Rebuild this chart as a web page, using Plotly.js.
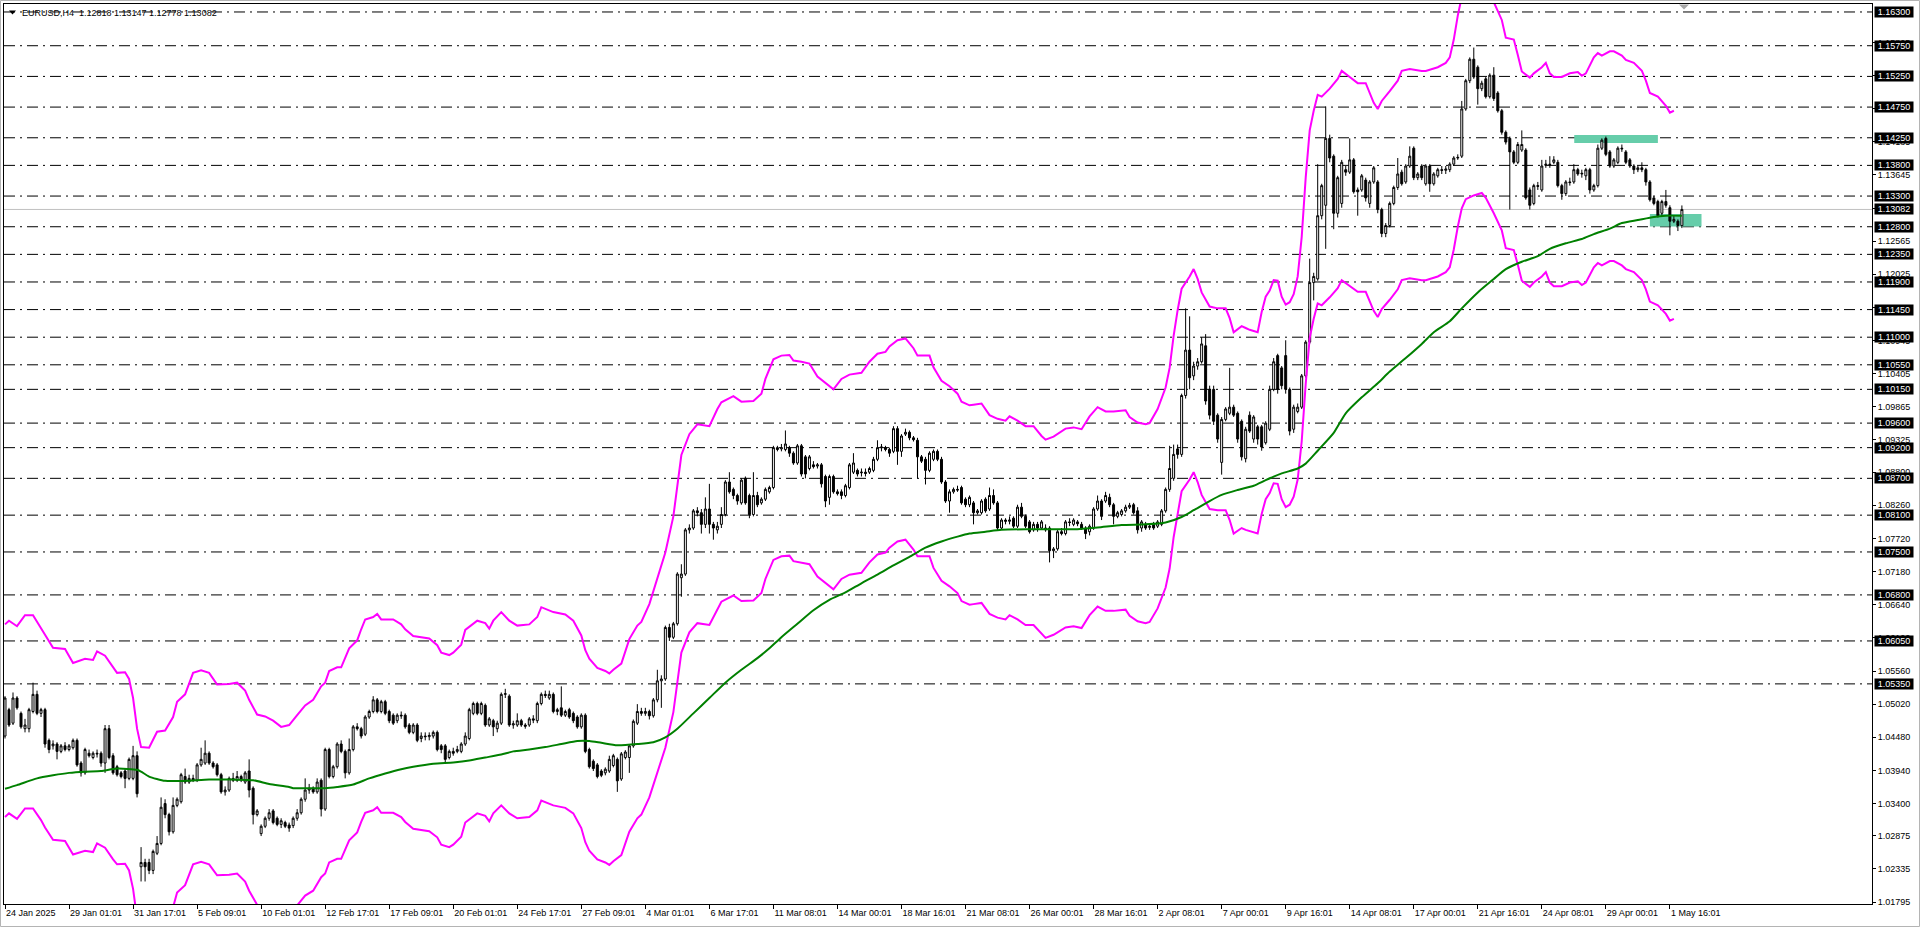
<!DOCTYPE html>
<html><head><meta charset="utf-8">
<script src="https://cdn.plot.ly/plotly-3.0.1.min.js"></script>
<style>html,body{margin:0;padding:0;background:#fff;overflow:hidden}#chart{width:1920px;height:927px}</style>
</head><body><div id="chart"></div>
<script>
// ---------------- DATA ----------------
const symbolTitle = "EURUSD,H4\u00a0 1.12818 1.13147 1.12778 1.13082";
const xTickBars = [0,16,32,48,64,80,96,112,128,144,160,176,192,208,224,240,256,272,288,304,320,336,352,368,384,400,416];
const xTickLabels = ["24 Jan 2025","29 Jan 01:01","31 Jan 17:01","5 Feb 09:01","10 Feb 01:01","12 Feb 17:01","17 Feb 09:01","20 Feb 01:01","24 Feb 17:01","27 Feb 09:01","4 Mar 01:01","6 Mar 17:01","11 Mar 08:01","14 Mar 00:01","18 Mar 16:01","21 Mar 08:01","26 Mar 00:01","28 Mar 16:01","2 Apr 08:01","7 Apr 00:01","9 Apr 16:01","14 Apr 08:01","17 Apr 00:01","21 Apr 16:01","24 Apr 08:01","29 Apr 00:01","1 May 16:01"];
const yTickValues = [1.01795,1.02335,1.02875,1.03400,1.03940,1.04480,1.05020,1.05560,1.06100,1.06640,1.07180,1.07720,1.08260,1.08800,1.09325,1.09865,1.10405,1.10945,1.11485,1.12025,1.12565,1.13105,1.13645,1.14185,1.14725,1.15265,1.15805];
const levelPrices = [1.16300,1.15750,1.15250,1.14750,1.14250,1.13800,1.13300,1.12800,1.12350,1.11900,1.11450,1.11000,1.10550,1.10150,1.09600,1.09200,1.08700,1.08100,1.07500,1.06800,1.06050,1.05350];
const bidPrice = 1.13082;
const zoneBars = [[392.1,413.0],[411.0,423.9]];
const zonePrices = [[1.14165,1.14295],[1.12803,1.13008]];

const opens = [
1.0450,1.0493,1.0471,1.0512,1.0487,1.0462,1.0462,1.0490,1.0518,1.0487,
1.0493,1.0443,1.0434,1.0437,1.0425,1.0434,1.0428,1.0431,1.0443,1.0406,
1.0390,1.0422,1.0415,1.0422,1.0422,1.0406,1.0462,1.0418,1.0400,1.0390,
1.0393,1.0381,1.0381,1.0418,1.0237,1.0244,1.0244,1.0231,1.0259,1.0275,
1.0340,1.0322,1.0294,1.0337,1.0343,1.0384,1.0375,1.0381,1.0378,1.0403,
1.0406,1.0422,1.0406,1.0403,1.0387,1.0359,1.0362,1.0381,1.0378,1.0384,
1.0375,1.0393,1.0365,1.0322,1.0291,1.0303,1.0316,1.0328,1.0316,1.0306,
1.0309,1.0305,1.0304,1.0316,1.0325,1.0347,1.0362,1.0365,1.0359,1.0378,
1.0331,1.0428,1.0384,1.0400,1.0437,1.0425,1.0390,1.0428,1.0465,1.0462,
1.0453,1.0481,1.0490,1.0509,1.0490,1.0506,1.0490,1.0484,1.0475,1.0484,
1.0484,1.0468,1.0456,1.0468,1.0446,1.0450,1.0449,1.0450,1.0456,1.0434,
1.0434,1.0415,1.0425,1.0425,1.0425,1.0437,1.0446,1.0487,1.0503,1.0487,
1.0500,1.0468,1.0475,1.0462,1.0471,1.0518,1.0515,1.0468,1.0468,1.0475,
1.0468,1.0468,1.0478,1.0475,1.0503,1.0518,1.0512,1.0518,1.0490,1.0496,
1.0484,1.0493,1.0487,1.0481,1.0465,1.0484,1.0428,1.0409,1.0403,1.0393,
1.0390,1.0393,1.0402,1.0412,1.0380,1.0415,1.0415,1.0434,1.0471,1.0490,
1.0487,1.0490,1.0483,1.0509,1.0540,1.0543,1.0627,1.0611,1.0633,1.0708,
1.0714,1.0786,1.0789,1.0817,1.0814,1.0795,1.0820,1.0795,1.0786,1.0795,
1.0811,1.0864,1.0852,1.0842,1.0830,1.0870,1.0842,1.0811,1.0842,1.0830,
1.0836,1.0848,1.0855,1.0920,1.0918,1.0917,1.0920,1.0911,1.0895,1.0923,
1.0905,1.0886,1.0892,1.0890,1.0892,1.0873,1.0839,1.0873,1.0848,1.0848,
1.0842,1.0855,1.0880,1.0883,1.0879,1.0880,1.0880,1.0883,1.0901,1.0920,
1.0920,1.0917,1.0914,1.0951,1.0914,1.0942,1.0945,1.0936,1.0932,1.0905,
1.0901,1.0883,1.0901,1.0914,1.0901,1.0864,1.0833,1.0848,1.0852,1.0855,
1.0836,1.0827,1.0830,1.0814,1.0814,1.0836,1.0820,1.0842,1.0830,1.0789,
1.0802,1.0800,1.0805,1.0792,1.0823,1.0808,1.0799,1.0786,1.0795,1.0789,
1.0789,1.0789,1.0752,1.0755,1.0783,1.0780,1.0799,1.0795,1.0799,1.0795,
1.0789,1.0783,1.0789,1.0820,1.0833,1.0833,1.0839,1.0827,1.0808,1.0811,
1.0817,1.0823,1.0827,1.0817,1.0789,1.0795,1.0790,1.0795,1.0792,1.0795,
1.0817,1.0852,1.0870,1.0918,1.0909,1.1005,1.1079,1.1037,1.1053,1.1060,
1.1086,1.1015,1.1015,1.0973,1.0896,1.0966,1.0976,1.0986,1.0976,1.0963,
1.0902,1.0973,1.0934,1.0954,1.0954,1.0928,1.0950,1.1015,1.1070,1.1050,
1.1070,1.1015,1.0950,1.0979,1.0986,1.1037,1.1092,1.1189,1.1195,1.1298,
1.1315,1.1424,1.1395,1.1302,1.1318,1.1373,1.1369,1.1389,1.1340,1.1340,
1.1356,1.1318,1.1353,1.1353,1.1308,1.1269,1.1282,1.1318,1.1344,1.1369,
1.1353,1.1379,1.1408,1.1360,1.1379,1.1350,1.1379,1.1350,1.1363,1.1373,
1.1372,1.1373,1.1382,1.1392,1.1395,1.1472,1.1518,1.1553,1.1540,1.1505,
1.1521,1.1492,1.1527,1.1498,1.1469,1.1434,1.1424,1.1402,1.1385,1.1405,
1.1405,1.1340,1.1318,1.1347,1.1340,1.1380,1.1382,1.1385,1.1385,1.1347,
1.1334,1.1353,1.1353,1.1373,1.1366,1.1363,1.1373,1.1340,1.1347,1.1408,
1.1424,1.1402,1.1379,1.1385,1.1408,1.1402,1.1389,1.1379,1.1373,1.1376,
1.1373,1.1353,1.1327,1.1321,1.1302,1.1321,1.1311,1.1289,1.1289,1.12818];

const highs = [
1.0515,1.0496,1.0521,1.0515,1.0490,1.0478,1.0496,1.0537,1.0524,1.0496,
1.0496,1.0446,1.0443,1.0440,1.0437,1.0440,1.0437,1.0446,1.0446,1.0409,
1.0431,1.0428,1.0425,1.0428,1.0425,1.0468,1.0468,1.0422,1.0403,1.0393,
1.0397,1.0415,1.0434,1.0425,1.0269,1.0250,1.0250,1.0265,1.0287,1.0350,
1.0347,1.0325,1.0350,1.0350,1.0390,1.0397,1.0387,1.0387,1.0406,1.0431,
1.0443,1.0425,1.0409,1.0406,1.0390,1.0368,1.0384,1.0390,1.0393,1.0387,
1.0393,1.0412,1.0368,1.0331,1.0306,1.0319,1.0331,1.0331,1.0319,1.0316,
1.0312,1.0309,1.0319,1.0331,1.0350,1.0381,1.0372,1.0368,1.0381,1.0381,
1.0431,1.0431,1.0403,1.0440,1.0443,1.0428,1.0446,1.0468,1.0471,1.0465,
1.0484,1.0493,1.0515,1.0512,1.0509,1.0509,1.0493,1.0487,1.0487,1.0490,
1.0487,1.0471,1.0471,1.0471,1.0456,1.0456,1.0456,1.0459,1.0459,1.0437,
1.0437,1.0428,1.0431,1.0434,1.0440,1.0456,1.0496,1.0506,1.0506,1.0506,
1.0503,1.0481,1.0478,1.0475,1.0521,1.0527,1.0518,1.0475,1.0487,1.0478,
1.0471,1.0481,1.0484,1.0506,1.0521,1.0524,1.0524,1.0521,1.0496,1.0531,
1.0493,1.0496,1.0490,1.0484,1.0487,1.0487,1.0431,1.0412,1.0406,1.0396,
1.0399,1.0418,1.0421,1.0415,1.0424,1.0427,1.0437,1.0477,1.0502,1.0496,
1.0496,1.0493,1.0512,1.0558,1.0549,1.0630,1.0633,1.0636,1.0717,1.0730,
1.0789,1.0795,1.0820,1.0823,1.0820,1.0839,1.0861,1.0799,1.0799,1.0823,
1.0867,1.0880,1.0855,1.0845,1.0870,1.0873,1.0845,1.0880,1.0848,1.0839,
1.0855,1.0858,1.0923,1.0923,1.0926,1.0948,1.0923,1.0914,1.0926,1.0926,
1.0908,1.0908,1.0898,1.0895,1.0895,1.0876,1.0876,1.0876,1.0852,1.0852,
1.0861,1.0895,1.0911,1.0886,1.0886,1.0886,1.0889,1.0905,1.0932,1.0926,
1.0923,1.0920,1.0955,1.0955,1.0942,1.0951,1.0948,1.0939,1.0936,1.0908,
1.0905,1.0914,1.0917,1.0917,1.0905,1.0867,1.0852,1.0855,1.0858,1.0858,
1.0839,1.0842,1.0833,1.0820,1.0836,1.0839,1.0855,1.0852,1.0833,1.0805,
1.0805,1.0808,1.0808,1.0827,1.0830,1.0811,1.0802,1.0799,1.0799,1.0802,
1.0795,1.0792,1.0758,1.0786,1.0789,1.0802,1.0805,1.0805,1.0802,1.0799,
1.0792,1.0795,1.0823,1.0842,1.0836,1.0848,1.0845,1.0830,1.0817,1.0820,
1.0827,1.0830,1.0830,1.0823,1.0802,1.0799,1.0795,1.0799,1.0802,1.0820,
1.0855,1.0923,1.0925,1.0925,1.1008,1.1147,1.1134,1.1060,1.1066,1.1100,
1.1105,1.1021,1.1021,1.0976,1.0970,1.0986,1.1050,1.0990,1.0979,1.0966,
1.0954,1.0979,1.0973,1.0957,1.0957,1.0963,1.1021,1.1066,1.1073,1.1053,
1.1095,1.1018,1.0990,1.0992,1.1040,1.1095,1.1228,1.1205,1.1382,1.1350,
1.1476,1.1430,1.1398,1.1363,1.1389,1.1379,1.1424,1.1392,1.1344,1.1366,
1.1360,1.1356,1.1379,1.1356,1.1311,1.1286,1.1321,1.1347,1.1392,1.1373,
1.1382,1.1411,1.1411,1.1369,1.1382,1.1382,1.1382,1.1369,1.1376,1.1379,
1.1379,1.1385,1.1395,1.1398,1.1485,1.1521,1.1556,1.1572,1.1543,1.1518,
1.1524,1.1530,1.1540,1.1501,1.1472,1.1437,1.1427,1.1405,1.1418,1.1437,
1.1408,1.1344,1.1350,1.1353,1.1389,1.1389,1.1395,1.1395,1.1389,1.1350,
1.1356,1.1360,1.1382,1.1376,1.1373,1.1376,1.1376,1.1350,1.1414,1.1424,
1.1427,1.1405,1.1392,1.1411,1.1414,1.1405,1.1392,1.1382,1.1379,1.1385,
1.1376,1.1356,1.1330,1.1324,1.1324,1.1340,1.1315,1.1298,1.1292,1.13147];

const lows = [
1.0446,1.0465,1.0468,1.0493,1.0462,1.0456,1.0456,1.0487,1.0484,1.0481,
1.0431,1.0422,1.0428,1.0412,1.0422,1.0425,1.0425,1.0428,1.0400,1.0384,
1.0387,1.0415,1.0412,1.0415,1.0400,1.0390,1.0412,1.0387,1.0384,1.0381,
1.0365,1.0378,1.0378,1.0350,1.0213,1.0213,1.0225,1.0225,1.0256,1.0272,
1.0316,1.0288,1.0291,1.0334,1.0340,1.0372,1.0372,1.0375,1.0375,1.0400,
1.0403,1.0403,1.0397,1.0384,1.0356,1.0353,1.0359,1.0375,1.0375,1.0375,
1.0372,1.0350,1.0306,1.0319,1.0287,1.0300,1.0312,1.0306,1.0303,1.0300,
1.0300,1.0294,1.0300,1.0312,1.0322,1.0343,1.0356,1.0356,1.0356,1.0319,
1.0328,1.0381,1.0381,1.0397,1.0422,1.0381,1.0387,1.0425,1.0459,1.0446,
1.0450,1.0478,1.0487,1.0487,1.0487,1.0484,1.0471,1.0468,1.0471,1.0478,
1.0462,1.0453,1.0453,1.0440,1.0440,1.0443,1.0443,1.0446,1.0425,1.0422,
1.0406,1.0412,1.0418,1.0422,1.0422,1.0434,1.0443,1.0484,1.0484,1.0484,
1.0465,1.0465,1.0450,1.0456,1.0468,1.0512,1.0465,1.0462,1.0465,1.0465,
1.0462,1.0465,1.0471,1.0471,1.0500,1.0512,1.0509,1.0487,1.0484,1.0481,
1.0481,1.0478,1.0471,1.0462,1.0462,1.0422,1.0397,1.0393,1.0381,1.0383,
1.0386,1.0390,1.0399,1.0359,1.0377,1.0412,1.0390,1.0431,1.0468,1.0483,
1.0483,1.0477,1.0480,1.0505,1.0496,1.0540,1.0605,1.0608,1.0630,1.0677,
1.0711,1.0780,1.0786,1.0808,1.0780,1.0789,1.0780,1.0770,1.0780,1.0789,
1.0808,1.0845,1.0836,1.0827,1.0827,1.0827,1.0805,1.0808,1.0823,1.0827,
1.0833,1.0845,1.0852,1.0914,1.0914,1.0914,1.0905,1.0892,1.0892,1.0873,
1.0870,1.0883,1.0886,1.0886,1.0855,1.0823,1.0827,1.0845,1.0842,1.0836,
1.0839,1.0852,1.0877,1.0873,1.0873,1.0873,1.0877,1.0880,1.0898,1.0914,
1.0914,1.0905,1.0911,1.0892,1.0905,1.0939,1.0932,1.0930,1.0870,1.0895,
1.0860,1.0880,1.0898,1.0898,1.0861,1.0830,1.0814,1.0845,1.0848,1.0827,
1.0823,1.0823,1.0795,1.0811,1.0811,1.0814,1.0817,1.0827,1.0786,1.0786,
1.0795,1.0795,1.0789,1.0789,1.0805,1.0789,1.0780,1.0783,1.0783,1.0786,
1.0783,1.0733,1.0740,1.0752,1.0777,1.0777,1.0792,1.0792,1.0792,1.0786,
1.0771,1.0777,1.0786,1.0817,1.0802,1.0830,1.0823,1.0795,1.0805,1.0808,
1.0814,1.0820,1.0811,1.0780,1.0783,1.0786,1.0786,1.0786,1.0789,1.0792,
1.0814,1.0848,1.0866,1.0902,1.0905,1.1000,1.1015,1.1030,1.1047,1.1057,
1.0990,1.0966,1.0957,1.0928,1.0876,1.0963,1.0973,1.0970,1.0928,1.0899,
1.0896,1.0944,1.0928,1.0925,1.0915,1.0925,1.0947,1.1012,1.1008,1.1015,
1.1008,1.0940,1.0944,1.0976,1.0983,1.1034,1.1089,1.1160,1.1192,1.1292,
1.1244,1.1385,1.1276,1.1295,1.1311,1.1363,1.1366,1.1334,1.1298,1.1337,
1.1321,1.1311,1.1350,1.1302,1.1263,1.1263,1.1279,1.1315,1.1340,1.1347,
1.1350,1.1376,1.1356,1.1356,1.1356,1.1347,1.1337,1.1347,1.1360,1.1366,
1.1366,1.1369,1.1379,1.1389,1.1392,1.1469,1.1514,1.1521,1.1479,1.1501,
1.1489,1.1489,1.1485,1.1466,1.1430,1.1414,1.1308,1.1382,1.1382,1.1402,
1.1324,1.1308,1.1315,1.1340,1.1337,1.1376,1.1376,1.1382,1.1344,1.1324,
1.1330,1.1347,1.1350,1.1363,1.1360,1.1356,1.1334,1.1337,1.1344,1.1405,
1.1395,1.1376,1.1376,1.1382,1.1402,1.1382,1.1376,1.1366,1.1369,1.1369,
1.1347,1.1321,1.1315,1.1295,1.1298,1.1311,1.1266,1.1286,1.1273,1.12778];

const closes = [
1.0512,1.0468,1.0512,1.0496,1.0465,1.0468,1.0493,1.0518,1.0487,1.0493,
1.0437,1.0428,1.0437,1.0425,1.0434,1.0428,1.0434,1.0443,1.0403,1.0390,
1.0428,1.0418,1.0422,1.0421,1.0406,1.0462,1.0415,1.0390,1.0387,1.0384,
1.0381,1.0412,1.0418,1.0356,1.0244,1.0237,1.0231,1.0262,1.0275,1.0334,
1.0322,1.0294,1.0337,1.0347,1.0387,1.0375,1.0381,1.0378,1.0403,1.0412,
1.0422,1.0406,1.0400,1.0387,1.0359,1.0362,1.0381,1.0378,1.0384,1.0379,
1.0390,1.0362,1.0322,1.0328,1.0303,1.0316,1.0325,1.0309,1.0306,1.0312,
1.0303,1.0300,1.0316,1.0325,1.0347,1.0362,1.0365,1.0359,1.0375,1.0331,
1.0428,1.0384,1.0400,1.0437,1.0425,1.0390,1.0428,1.0465,1.0462,1.0450,
1.0481,1.0490,1.0509,1.0490,1.0506,1.0487,1.0475,1.0471,1.0484,1.0483,
1.0465,1.0456,1.0468,1.0443,1.0450,1.0449,1.0451,1.0456,1.0428,1.0428,
1.0412,1.0425,1.0422,1.0428,1.0437,1.0450,1.0493,1.0503,1.0487,1.0503,
1.0468,1.0478,1.0465,1.0471,1.0518,1.0519,1.0468,1.0470,1.0475,1.0468,
1.0466,1.0478,1.0476,1.0503,1.0518,1.0516,1.0518,1.0490,1.0493,1.0484,
1.0490,1.0481,1.0475,1.0465,1.0484,1.0425,1.0400,1.0397,1.0384,1.0386,
1.0396,1.0412,1.0418,1.0377,1.0421,1.0424,1.0434,1.0474,1.0490,1.0487,
1.0490,1.0483,1.0509,1.0540,1.0543,1.0627,1.0611,1.0633,1.0714,1.0714,
1.0786,1.0789,1.0817,1.0814,1.0795,1.0820,1.0795,1.0789,1.0792,1.0811,
1.0864,1.0848,1.0842,1.0833,1.0867,1.0830,1.0811,1.0842,1.0827,1.0836,
1.0852,1.0855,1.0920,1.0917,1.0920,1.0926,1.0911,1.0895,1.0923,1.0877,
1.0877,1.0905,1.0889,1.0892,1.0861,1.0833,1.0873,1.0848,1.0845,1.0842,
1.0858,1.0892,1.0895,1.0877,1.0880,1.0878,1.0886,1.0901,1.0920,1.0921,
1.0917,1.0911,1.0951,1.0914,1.0939,1.0945,1.0936,1.0933,1.0905,1.0898,
1.0883,1.0911,1.0914,1.0901,1.0864,1.0833,1.0848,1.0852,1.0851,1.0830,
1.0827,1.0839,1.0814,1.0817,1.0833,1.0817,1.0842,1.0830,1.0789,1.0802,
1.0800,1.0802,1.0792,1.0823,1.0808,1.0792,1.0783,1.0795,1.0789,1.0799,
1.0786,1.0752,1.0755,1.0783,1.0780,1.0799,1.0798,1.0802,1.0796,1.0789,
1.0780,1.0792,1.0820,1.0833,1.0808,1.0842,1.0827,1.0808,1.0814,1.0817,
1.0823,1.0826,1.0814,1.0786,1.0799,1.0789,1.0792,1.0789,1.0799,1.0817,
1.0852,1.0886,1.0909,1.0909,1.1005,1.1079,1.1034,1.1053,1.1060,1.1089,
1.0996,1.0973,1.0963,1.0934,1.0966,1.0983,1.0986,1.0973,1.0934,1.0905,
1.0950,1.0947,1.0970,1.0934,1.0921,1.0960,1.1015,1.1060,1.1015,1.1021,
1.1015,1.0947,1.0986,1.0986,1.1037,1.1092,1.1189,1.1199,1.1298,1.1347,
1.1424,1.1392,1.1302,1.1360,1.1385,1.1369,1.1389,1.1337,1.1337,1.1363,
1.1327,1.1353,1.1376,1.1308,1.1269,1.1282,1.1318,1.1344,1.1366,1.1350,
1.1379,1.1395,1.1360,1.1366,1.1360,1.1379,1.1350,1.1366,1.1373,1.1372,
1.1374,1.1382,1.1392,1.1393,1.1472,1.1518,1.1553,1.1524,1.1505,1.1514,
1.1492,1.1527,1.1489,1.1469,1.1434,1.1418,1.1402,1.1385,1.1414,1.1414,
1.1327,1.1315,1.1347,1.1346,1.1379,1.1382,1.1381,1.1389,1.1347,1.1334,
1.1353,1.1352,1.1373,1.1366,1.1367,1.1373,1.1340,1.1347,1.1408,1.1421,
1.1398,1.1379,1.1389,1.1408,1.1407,1.1385,1.1379,1.1373,1.1376,1.1373,
1.1353,1.1324,1.1318,1.1298,1.1321,1.1315,1.1289,1.1292,1.1282,1.13082];

const envBars = [
0,1,3,5,7,9,10,12,15,17,
20,22,23,25,27,28,30,31,32,33,
34,36,38,40,42,43,45,46,47,49,
51,53,56,58,60,61,63,65,67,69,
71,73,75,77,79,80,81,83,84,86,
88,89,90,92,93,94,97,99,100,102,
106,108,109,111,112,114,115,118,120,121,
122,124,126,128,131,133,134,137,140,142,
144,145,146,148,150,151,152,154,156,158,
159,161,163,165,167,168,169,171,173,176,
178,179,182,184,187,189,190,192,194,196,
197,199,201,203,205,207,209,211,214,216,
218,220,221,223,225,227,228,231,232,234,
236,238,239,241,242,244,246,248,250,251,
253,255,257,259,260,262,265,267,269,271,
273,275,277,280,281,283,285,286,288,290,
291,292,293,294,296,297,298,299,301,303,
305,306,307,309,310,311,313,314,315,316,
317,318,319,320,321,322,323,324,325,326,
327,328,329,331,333,334,336,338,340,341,
342,343,344,346,348,349,351,354,355,358,
360,361,362,363,364,365,367,369,370,372,
374,375,377,378,379,381,382,384,385,386,
387,389,391,393,394,395,397,398,399,401,
402,404,405,407,409,410,411,413,415,416,
417];
const envUpper = [
1.0632,1.0638,1.0629,1.0647,1.0647,1.0627,1.0615,1.0594,1.0592,1.0569,
1.0576,1.0574,1.0588,1.0581,1.0561,1.0553,1.0554,1.0543,1.0512,1.0462,
1.0432,1.0431,1.0457,1.0459,1.0481,1.0506,1.0518,1.0534,1.0553,1.0557,
1.0553,1.0534,1.0535,1.0537,1.0524,1.0509,1.0485,1.0482,1.0475,1.0465,
1.0468,1.0484,1.0500,1.0509,1.0531,1.0537,1.0556,1.0562,1.0562,1.0593,
1.0606,1.0624,1.0640,1.0644,1.0649,1.0640,1.0640,1.0632,1.0624,1.0613,
1.0609,1.0598,1.0586,1.0582,1.0586,1.0599,1.0623,1.0638,1.0634,1.0625,
1.0638,1.0652,1.0638,1.0630,1.0632,1.0644,1.0660,1.0652,1.0648,1.0638,
1.0614,1.0590,1.0576,1.0561,1.0556,1.0552,1.0558,1.0568,1.0608,1.0630,
1.0636,1.0665,1.0708,1.0749,1.0808,1.0858,1.0908,1.0942,1.0958,1.0955,
1.0983,1.0994,1.1004,1.0995,1.0996,1.1008,1.1032,1.1064,1.1070,1.1071,
1.1062,1.1060,1.1057,1.1036,1.1026,1.1015,1.1032,1.1039,1.1042,1.1060,
1.1073,1.1076,1.1085,1.1095,1.1098,1.1082,1.1070,1.1070,1.1051,1.1029,
1.1020,1.1008,1.0995,1.0989,1.0990,1.0992,1.0973,1.0967,1.0964,1.0971,
1.0964,1.0955,1.0955,1.0939,1.0933,1.0938,1.0951,1.0953,1.0950,1.0971,
1.0986,1.0979,1.0979,1.0981,1.0970,1.0961,1.0958,1.0960,1.0983,1.1018,
1.1050,1.1102,1.1144,1.1179,1.1199,1.1211,1.1195,1.1173,1.1150,1.1147,
1.1147,1.1131,1.1108,1.1118,1.1115,1.1112,1.1108,1.1141,1.1166,1.1176,
1.1193,1.1192,1.1166,1.1153,1.1157,1.1170,1.1199,1.1263,1.1360,1.1437,
1.1469,1.1495,1.1492,1.1505,1.1521,1.1534,1.1524,1.1514,1.1514,1.1498,
1.1482,1.1472,1.1485,1.1501,1.1518,1.1534,1.1537,1.1534,1.1534,1.1540,
1.1547,1.1556,1.1585,1.1624,1.1655,1.1670,1.1676,1.1680,1.1672,1.1646,
1.1617,1.1588,1.1585,1.1560,1.1533,1.1523,1.1530,1.1540,1.1547,1.1530,
1.1524,1.1524,1.1530,1.1532,1.1526,1.1530,1.1556,1.1563,1.1559,1.1566,
1.1566,1.1559,1.1552,1.1547,1.1534,1.1518,1.1498,1.1492,1.1477,1.1466,
1.1469];
const envLower = [
1.0318,1.0324,1.0315,1.0332,1.0332,1.0313,1.0301,1.0281,1.0279,1.0257,
1.0263,1.0261,1.0275,1.0268,1.0249,1.0241,1.0242,1.0231,1.0201,1.0153,
1.0124,1.0123,1.0148,1.0150,1.0171,1.0195,1.0207,1.0223,1.0241,1.0245,
1.0241,1.0223,1.0224,1.0226,1.0213,1.0198,1.0175,1.0172,1.0165,1.0156,
1.0159,1.0174,1.0190,1.0198,1.0220,1.0226,1.0244,1.0250,1.0250,1.0280,
1.0293,1.0310,1.0325,1.0329,1.0334,1.0325,1.0325,1.0318,1.0310,1.0299,
1.0295,1.0285,1.0273,1.0269,1.0273,1.0286,1.0309,1.0324,1.0320,1.0311,
1.0324,1.0337,1.0324,1.0316,1.0318,1.0329,1.0345,1.0337,1.0333,1.0324,
1.0300,1.0277,1.0263,1.0249,1.0244,1.0240,1.0246,1.0256,1.0294,1.0316,
1.0322,1.0350,1.0391,1.0431,1.0489,1.0537,1.0586,1.0619,1.0634,1.0631,
1.0658,1.0669,1.0679,1.0670,1.0671,1.0683,1.0706,1.0737,1.0743,1.0744,
1.0735,1.0733,1.0730,1.0710,1.0700,1.0689,1.0706,1.0713,1.0716,1.0733,
1.0746,1.0749,1.0757,1.0767,1.0770,1.0754,1.0743,1.0743,1.0724,1.0703,
1.0694,1.0683,1.0670,1.0664,1.0665,1.0667,1.0649,1.0643,1.0640,1.0647,
1.0640,1.0631,1.0631,1.0616,1.0610,1.0615,1.0627,1.0629,1.0626,1.0647,
1.0661,1.0654,1.0654,1.0656,1.0646,1.0637,1.0634,1.0636,1.0658,1.0692,
1.0723,1.0774,1.0815,1.0849,1.0868,1.0880,1.0864,1.0843,1.0820,1.0818,
1.0818,1.0802,1.0780,1.0789,1.0786,1.0784,1.0780,1.0812,1.0836,1.0846,
1.0862,1.0861,1.0836,1.0823,1.0827,1.0840,1.0868,1.0930,1.1024,1.1099,
1.1130,1.1155,1.1152,1.1165,1.1180,1.1193,1.1183,1.1174,1.1174,1.1158,
1.1143,1.1133,1.1146,1.1161,1.1178,1.1193,1.1196,1.1193,1.1193,1.1199,
1.1206,1.1214,1.1243,1.1280,1.1310,1.1325,1.1331,1.1335,1.1327,1.1302,
1.1274,1.1245,1.1242,1.1218,1.1192,1.1182,1.1189,1.1199,1.1206,1.1189,
1.1183,1.1183,1.1189,1.1191,1.1185,1.1189,1.1214,1.1221,1.1217,1.1224,
1.1224,1.1217,1.1211,1.1206,1.1193,1.1178,1.1158,1.1152,1.1138,1.1127,
1.1130];

const maBars = [0,3,8,12,16,20,24,28,33,34,36,40,45,51,57,62,66,71,72,76,80,83,87,91,95,99,102,107,112,116,120,124,127,131,135,139,143,146,149,153,158,162,165,168,172,176,180,184,188,191,194,198,202,206,210,214,218,222,226,230,234,238,241,245,249,255,261,267,273,279,285,290,294,297,301,304,308,312,315,319,323,325,328,332,335,339,343,346,350,354,357,361,364,368,372,375,379,383,386,390,394,397,401,404,408,412,415,419];
const maValues = [1.0364,1.0370,1.0381,1.0386,1.0390,1.0392,1.0393,1.0397,1.0395,1.0392,1.0384,1.0377,1.0377,1.0379,1.0379,1.0378,1.0372,1.0367,1.0365,1.0365,1.0365,1.0367,1.0371,1.0381,1.0389,1.0396,1.0400,1.0405,1.0407,1.0410,1.0415,1.0420,1.0425,1.0428,1.0432,1.0437,1.0442,1.0442,1.0439,1.0435,1.0437,1.0440,1.0448,1.0462,1.0487,1.0512,1.0537,1.0558,1.0577,1.0593,1.0611,1.0633,1.0655,1.0672,1.0684,1.0699,1.0713,1.0728,1.0742,1.0757,1.0767,1.0775,1.0780,1.0783,1.0786,1.0787,1.0787,1.0787,1.0790,1.0794,1.0795,1.0798,1.0807,1.0818,1.0833,1.0843,1.0851,1.0858,1.0867,1.0878,1.0886,1.0894,1.0915,1.0944,1.0976,1.1002,1.1025,1.1044,1.1066,1.1089,1.1108,1.1126,1.1147,1.1173,1.1195,1.1211,1.1223,1.1232,1.1244,1.1253,1.1260,1.1268,1.1277,1.1286,1.1291,1.1296,1.1298,1.1298];

// ---------------- LAYOUT GEOMETRY ----------------
const W = 1920, H = 927;
const M = {l: 4, r: 48, t: 4, b: 23};
const PW = W - M.l - M.r, PH = H - M.t - M.b;
const px = x => (x - M.l) / PW;
const py = y => (H - M.b - y) / PH;
const FONT = 'Liberation Sans, Arial, sans-serif';
const DASHDOT = '11px,5px,2px,5px';

const barIndex = opens.map((_, i) => i);

const traces = [
  {
    type: 'candlestick', x: barIndex, open: opens, high: highs, low: lows, close: closes,
    increasing: {line: {color: '#000000', width: 1}, fillcolor: '#ffffff'},
    decreasing: {line: {color: '#000000', width: 1}, fillcolor: '#000000'},
    whiskerwidth: 0, hoverinfo: 'skip', showlegend: false
  },
  {type: 'scatter', mode: 'lines', x: envBars, y: envUpper, line: {color: '#ff00ff', width: 2}, hoverinfo: 'skip', showlegend: false},
  {type: 'scatter', mode: 'lines', x: envBars, y: envLower, line: {color: '#ff00ff', width: 2}, hoverinfo: 'skip', showlegend: false},
  {type: 'scatter', mode: 'lines', x: maBars, y: maValues, line: {color: '#008000', width: 2, shape: 'spline', smoothing: 0.6}, hoverinfo: 'skip', showlegend: false}
];

const shapes = [];
zoneBars.forEach((zb, k) => {
  shapes.push({type: 'rect', xref: 'x', yref: 'y', x0: zb[0], x1: zb[1], y0: zonePrices[k][0], y1: zonePrices[k][1],
    fillcolor: '#66cdaa', line: {width: 0}, layer: 'below'});
});
levelPrices.forEach(p => {
  shapes.push({type: 'line', xref: 'paper', yref: 'y', x0: 0, x1: 1, y0: p, y1: p,
    line: {color: '#000000', width: 1, dash: DASHDOT}, layer: 'below'});
});
shapes.push({type: 'line', xref: 'paper', yref: 'y', x0: 0, x1: 1, y0: bidPrice, y1: bidPrice,
  line: {color: '#c0c0c0', width: 1}, layer: 'below'});
// title triangle
shapes.push({type: 'path', xref: 'paper', yref: 'paper',
  path: `M ${px(9)} ${py(10.5)} L ${px(16)} ${py(10.5)} L ${px(12.5)} ${py(14.5)} Z`,
  fillcolor: '#000000', line: {width: 0}});
// chart shift marker
shapes.push({type: 'path', xref: 'paper', yref: 'paper',
  path: `M ${px(1679)} ${py(4.5)} L ${px(1689)} ${py(4.5)} L ${px(1684)} ${py(9.5)} Z`,
  fillcolor: '#a8a8a8', line: {width: 0}});
// outer window frame
shapes.push({type: 'rect', xref: 'paper', yref: 'paper', x0: px(0.5), x1: px(1919.5), y0: py(0.5), y1: py(926.5),
  line: {color: '#b4b4b4', width: 1}, fillcolor: 'rgba(0,0,0,0)'});

const annotations = [];
annotations.push({xref: 'paper', yref: 'paper', x: px(20), y: py(12.5), xanchor: 'left', yanchor: 'middle',
  text: symbolTitle, showarrow: false, font: {family: FONT, size: 9, color: '#000000'}});
levelPrices.concat([bidPrice]).forEach(p => {
  annotations.push({xref: 'paper', yref: 'y', x: 1, y: p, xanchor: 'left', yanchor: 'middle', xshift: 2,
    text: p.toFixed(5), showarrow: false, bgcolor: '#000000', borderpad: 0, width: 38, height: 10,
    font: {family: FONT, size: 9, color: '#ffffff'}});
});

const layout = {
  width: W, height: H, margin: M,
  paper_bgcolor: '#ffffff', plot_bgcolor: '#ffffff',
  showlegend: false, dragmode: false,
  xaxis: {
    type: 'linear', range: [-0.25, (W - M.r - M.l - 1) / 4 - 0.25],
    rangeslider: {visible: false},
    showgrid: false, zeroline: false, showline: true, mirror: true, linecolor: '#000000', linewidth: 1,
    ticks: 'outside', ticklen: 4, tickcolor: '#000000', tickwidth: 1,
    tickmode: 'array', tickvals: xTickBars, ticktext: xTickLabels,
    ticklabelposition: 'outside right',
    tickfont: {family: FONT, size: 9, color: '#000000'}
  },
  yaxis: {
    side: 'right', range: [1.01763, 1.16430],
    showgrid: false, zeroline: false, showline: true, mirror: true, linecolor: '#000000', linewidth: 1,
    ticks: 'outside', ticklen: 3, tickcolor: '#000000', tickwidth: 1,
    tickmode: 'array', tickvals: yTickValues, tickformat: '.5f',
    tickfont: {family: FONT, size: 9, color: '#000000'}
  },
  shapes: shapes,
  annotations: annotations
};

Plotly.newPlot('chart', traces, layout, {staticPlot: true, displayModeBar: false});
</script>
</body></html>
